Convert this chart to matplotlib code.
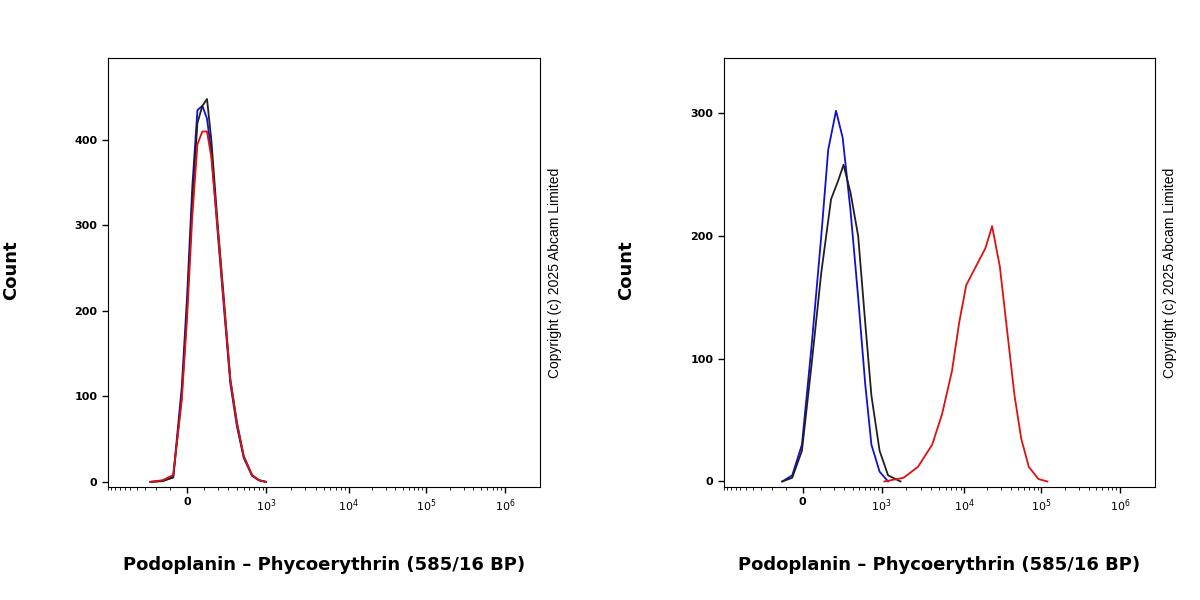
import numpy as np
import matplotlib
matplotlib.use("Agg")
import matplotlib.pyplot as plt

# ---- data (x in fluorescence units, y counts) ----
left_x = [-250, -150, -80, -30, 0, 30, 60, 90, 120, 150, 200, 250, 320, 400, 500, 650, 800, 1000]
left_black = [0, 1, 5, 100, 200, 330, 420, 440, 448, 400, 300, 220, 120, 70, 30, 8, 2, 0]
left_blue = [0, 1, 6, 110, 215, 345, 435, 440, 425, 385, 290, 210, 115, 65, 28, 7, 2, 0]
left_red = [0, 2, 8, 95, 190, 310, 395, 410, 410, 380, 295, 215, 120, 68, 30, 8, 2, 0]

right_bx = [-124, -61, -5, 50, 110, 158, 221, 284, 374, 480, 600, 730, 940, 1200]
right_blue = [0, 5, 30, 110, 200, 270, 302, 280, 220, 150, 80, 30, 8, 0]
right_kx = [-124, -61, -5, 50, 110, 180, 240, 293, 374, 480, 600, 730, 940, 1200, 1700]
right_black = [0, 3, 25, 95, 170, 230, 245, 258, 235, 200, 130, 70, 25, 5, 0]
right_rx = [1080, 1850, 2770, 4100, 5400, 7100, 8700, 10600, 14100, 18800, 23000, 29000, 36500, 45000, 55000, 69000, 92000, 120000]
right_red = [0, 3, 12, 30, 55, 90, 130, 160, 175, 190, 208, 175, 120, 70, 35, 12, 2, 0]

tick_vals = [0, 1e3, 1e4, 1e5, 1e6]
tick_labels = ["0", "$10^3$", "$10^4$", "$10^5$", "$10^6$"]

# ---- biexponential-like scale ----
W = 188.0
_anch_v = np.array([-1e7, -1e3, 0, 1e3, 1e4, 1e5, 1e6, 1e7])
_anch_a = np.arcsinh(_anch_v / W)
_anch_p = np.array([-405, -81, 0, 81, 166, 245, 326, 405], float)

def fwd(x):
    return np.interp(np.arcsinh(np.asarray(x, float) / W), _anch_a, _anch_p)

def inv(p):
    return W * np.sinh(np.interp(np.asarray(p, float), _anch_p, _anch_a))

minor = [-v for v in range(100, 1001, 100)] + list(range(100, 1000, 100))
for d in [1e3, 1e4, 1e5]:
    minor += [k * d for k in range(2, 10)]

fig = plt.figure(figsize=(12, 6), dpi=100)
axL = fig.add_axes([108/1200, 113/600, 432/1200, 429/600])
axR = fig.add_axes([724/1200, 113/600, 431/1200, 429/600])

def style(ax, ylim, yticks, ylab_x):
    ax.set_xscale("function", functions=(fwd, inv))
    ax.set_xlim(inv(-70), inv(362))
    ax.set_ylim(*ylim)
    ax.set_xticks(tick_vals)
    ax.set_xticklabels(tick_labels)
    ax.set_xticks(minor, minor=True)
    ax.set_yticks(yticks)
    ax.tick_params(axis="both", labelsize=8, length=4, width=1, direction="out")
    ax.tick_params(axis="x", which="minor", length=2.5)
    for t in ax.get_xticklabels() + ax.get_yticklabels():
        t.set_fontweight("bold")
    ax.set_xlabel("Podoplanin \u2013 Phycoerythrin (585/16 BP)", fontsize=13, fontweight="bold", labelpad=30)
    fig.text(ylab_x, 0.55, "Count", rotation=90, ha="center", va="center",
             fontsize=13, fontweight="bold")
    ax.text(1.035, 0.5, "Copyright (c) 2025 Abcam Limited", rotation=90, transform=ax.transAxes,
            ha="center", va="center", fontsize=10, family="Liberation Sans")

axL.plot(left_x, left_blue, color="#1010d0", lw=1.3)
axL.plot(left_x, left_black, color="#202020", lw=1.3)
axL.plot(left_x, left_red, color="#e01010", lw=1.3)
style(axL, (-6, 496), [0, 100, 200, 300, 400], 11/1200)

axR.plot(right_bx, right_blue, color="#1010d0", lw=1.3)
axR.plot(right_kx, right_black, color="#202020", lw=1.3)
axR.plot(right_rx, right_red, color="#e01010", lw=1.3)
style(axR, (-4.5, 345), [0, 100, 200, 300], 626/1200)

fig.savefig("out.png", dpi=100)
